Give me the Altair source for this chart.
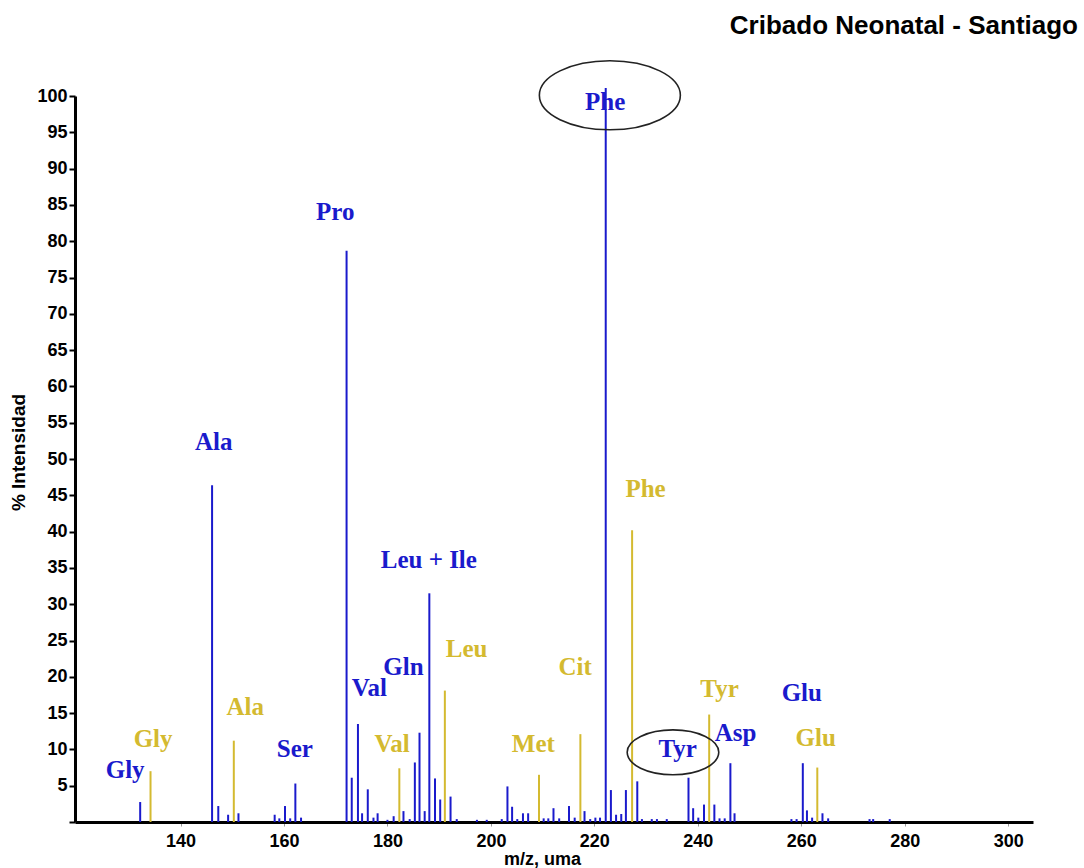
import altair as alt
import pandas as pd

# ---- data ----
blue_mz = [132.2, 146.1, 147.3, 149.2, 151.2, 158.2, 159.1, 160.2, 161.2, 162.2, 163.3,
           172.1, 173.1, 174.3, 175.1, 176.2, 177.3, 178.1, 180.0, 181.2, 183.1, 184.3,
           185.3, 186.2, 187.2, 188.1, 189.2, 190.2, 192.2, 193.4, 197.3, 199.2, 202.1,
           203.2, 204.1, 205.1, 206.2, 207.2, 210.2, 211.1, 212.1, 213.2, 215.1, 216.2,
           218.1, 219.2, 220.2, 221.1, 222.2, 223.2, 224.2, 225.2, 226.1, 228.3, 229.2,
           231.1, 232.1, 234.0, 238.2, 239.1, 240.1, 241.2, 243.2, 244.2, 245.2, 246.3,
           247.1, 258.1, 259.1, 260.3, 261.1, 262.1, 264.1, 265.2, 273.2, 273.9, 277.1]
blue_int = [2.75, 46.4, 2.2, 1.0, 1.2, 1.0, 0.5, 2.2, 0.5, 5.3, 0.6,
            78.7, 6.1, 13.5, 1.2, 4.5, 0.6, 1.2, 0.3, 0.8, 1.5, 0.4,
            8.2, 12.3, 1.5, 31.5, 6.0, 3.1, 3.5, 0.4, 0.3, 0.3, 0.4,
            4.9, 2.1, 0.4, 1.2, 1.2, 0.5, 0.5, 1.9, 0.5, 2.2, 0.6,
            1.5, 0.4, 0.6, 0.6, 101.1, 4.4, 1.0, 1.1, 4.4, 5.6, 0.4,
            0.4, 0.4, 0.4, 6.1, 1.9, 0.6, 2.4, 2.4, 0.5, 0.5, 8.1,
            1.2, 0.4, 0.4, 8.1, 1.6, 0.6, 1.2, 0.5, 0.4, 0.4, 0.4]

yellow_mz = [134.2, 150.3, 182.3, 191.1, 209.3, 217.3, 227.3, 242.2, 263.1]
yellow_int = [7.0, 11.2, 7.4, 18.1, 6.5, 12.1, 40.2, 14.8, 7.5]

blue_labels = ["Gly", "Ala", "Ser", "Pro", "Val", "Gln", "Leu + Ile", "Phe", "Tyr", "Asp", "Glu"]
blue_label_mz = [129.3, 146.4, 162.1, 169.9, 176.5, 183.1, 188.0, 222.1, 236.1, 247.3, 260.1]
blue_label_y = [7.2, 52.4, 10.0, 84.0, 18.5, 21.35, 36.1, 99.2, 10.0, 12.2, 17.8]

yellow_labels = ["Gly", "Ala", "Val", "Leu", "Met", "Cit", "Phe", "Tyr", "Glu"]
yellow_label_mz = [134.7, 152.5, 180.9, 195.3, 208.2, 216.3, 229.9, 244.2, 262.8]
yellow_label_y = [11.4, 15.8, 10.7, 23.8, 10.8, 21.4, 45.9, 18.3, 11.6]

circled_mz = [223.0, 235.2]
circled_y = [100.1, 9.6]
circled_size = [19881, 8391]

x_ticks = [140, 160, 180, 200, 220, 240, 260, 280, 300]
y_ticks = list(range(0, 101, 5))

BLUE = "#1a1acc"
YELLOW = "#d4ba30"

blue_df = pd.DataFrame({"mz": blue_mz, "intensity": blue_int})
yellow_df = pd.DataFrame({"mz": yellow_mz, "intensity": yellow_int})
blab_df = pd.DataFrame({"mz": blue_label_mz, "y": blue_label_y, "label": blue_labels})
ylab_df = pd.DataFrame({"mz": yellow_label_mz, "y": yellow_label_y, "label": yellow_labels})
ell_df = pd.DataFrame({"mz": circled_mz, "y": circled_y, "size": circled_size})

xscale = alt.Scale(domain=[119.6, 304.8], nice=False, zero=False)
yscale = alt.Scale(domain=[0, 100], nice=False)

x_axis = alt.Axis(values=x_ticks, title="m/z, uma", grid=False, labelOverlap=False,
                  labelFont="Liberation Sans", labelFontSize=18, labelFontWeight="bold",
                  labelColor="black", titleFont="Liberation Sans", titleFontSize=18,
                  titleFontWeight="bold", titleColor="black", domainColor="black",
                  domainWidth=3, tickColor="#999999", tickSize=4, labelPadding=6,
                  titlePadding=0, titleX=467, titleAlign="center")
y_axis = alt.Axis(values=y_ticks, title="% Intensidad", grid=False, labelOverlap=False,
                  labelExpr="datum.value == 0 ? '' : datum.label",
                  labelFont="Liberation Sans", labelFontSize=18, labelFontWeight="bold",
                  labelColor="black", titleFont="Liberation Sans", titleFontSize=19,
                  titleFontWeight="bold", titleColor="black", domainColor="black",
                  domainWidth=3, tickColor="black", tickSize=6, tickWidth=2,
                  labelPadding=2, titlePadding=8, titleY=356)


def xenc(field):
    return alt.X(f"{field}:Q", scale=xscale, axis=x_axis)


def yenc(field):
    return alt.Y(f"{field}:Q", scale=yscale, axis=y_axis)


blue_rules = alt.Chart(blue_df).mark_rule(color=BLUE, strokeWidth=2).encode(
    x=xenc("mz"), y=yenc("intensity"), y2=alt.datum(0))
yellow_rules = alt.Chart(yellow_df).mark_rule(color=YELLOW, strokeWidth=2).encode(
    x=xenc("mz"), y=yenc("intensity"), y2=alt.datum(0))
blue_text = alt.Chart(blab_df).mark_text(
    font="Liberation Serif", fontSize=25, fontWeight="bold", color=BLUE,
    align="center", baseline="middle").encode(
    x=xenc("mz"), y=yenc("y"), text="label:N")
yellow_text = alt.Chart(ylab_df).mark_text(
    font="Liberation Serif", fontSize=25, fontWeight="bold", color=YELLOW,
    align="center", baseline="middle").encode(
    x=xenc("mz"), y=yenc("y"), text="label:N")

ellipse_path = "M -1 0 A 1 0.49 0 1 0 1 0 A 1 0.49 0 1 0 -1 0 Z"
ellipses = alt.Chart(ell_df).mark_point(
    shape=ellipse_path, filled=False, stroke="#222222", strokeWidth=1.6, opacity=1).encode(
    x=xenc("mz"), y=yenc("y"),
    size=alt.Size("size:Q", scale=None, legend=None))

chart = alt.layer(blue_rules, yellow_rules, blue_text, yellow_text, ellipses).properties(
    width=958, height=726,
    title=alt.TitleParams("Cribado Neonatal - Santiago", anchor="end",
                          font="Liberation Sans", fontSize=26,
                          fontWeight="bold", color="black", dx=45, offset=19),
    autosize=alt.AutoSizeParams(type="none"),
    padding={"left": 75, "top": 96, "right": 51, "bottom": 46},
    background="white",
).configure_view(stroke=None)

chart.save("out.html", embed_options={"renderer": "svg", "actions": False})
